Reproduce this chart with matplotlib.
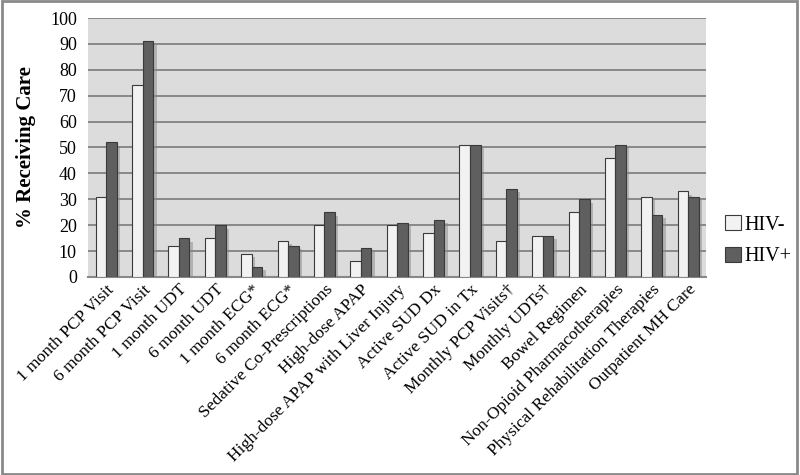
import numpy as np
import matplotlib.pyplot as plt
import matplotlib.patheffects as pe
from matplotlib.patches import Rectangle

categories = [
    "1 month PCP Visit", "6 month PCP Visit", "1 month UDT", "6 month UDT",
    "1 month ECG*", "6 month ECG*", "Sedative Co-Prescriptions", "High-dose APAP",
    "High-dose APAP with Liver Injury", "Active SUD Dx", "Active SUD in Tx",
    "Monthly PCP Visits\u2020", "Monthly UDTs\u2020", "Bowel Regimen",
    "Non-Opioid Pharmacotherapies", "Physical Rehabilitation Therapies",
    "Outpatient MH Care",
]
hiv_neg = [31, 74, 12, 15, 9, 14, 20, 6, 20, 17, 51, 14, 16, 25, 46, 31, 33]
hiv_pos = [52, 91, 15, 20, 4, 12, 25, 11, 21, 22, 51, 34, 16, 30, 51, 24, 31]

plt.rcParams["font.family"] = ["Liberation Serif", "DejaVu Serif"]

fig = plt.figure(figsize=(8, 4.75), dpi=100)
ax = fig.add_axes([0.11, 0.417, 0.773, 0.545])
ax.set_facecolor("#dcdcdc")

x = np.arange(len(categories))
w = 0.29
shadow = [pe.SimplePatchShadow(offset=(2.5, -2.5), shadow_rgbFace="#8a8a8a", alpha=0.5), pe.Normal()]
b1 = ax.bar(x - w / 2, hiv_neg, w, color="#f2f2f2", edgecolor="#3a3a3a", linewidth=0.8,
            label="HIV-", zorder=3)
b2 = ax.bar(x + w / 2, hiv_pos, w, color="#5f5f5f", edgecolor="#3a3a3a", linewidth=0.8,
            label="HIV+", zorder=3)
for b in list(b1) + list(b2):
    b.set_path_effects(shadow)

ax.set_xlim(-0.5, len(categories) - 0.5)
ax.set_ylim(0, 100)
ax.set_yticks(range(0, 101, 10))
ax.yaxis.grid(True, color="#7a7a7a", linewidth=1.2, zorder=0)
ax.set_axisbelow(True)
for s in ["top", "right", "left"]:
    ax.spines[s].set_visible(False)
ax.spines["bottom"].set_color("#888888")
ax.spines["bottom"].set_linewidth(1.5)
ax.tick_params(axis="both", length=0, labelsize=13)
ax.tick_params(axis="y", pad=8)
ax.set_xticks(x)
ax.set_xticklabels(categories, rotation=45, ha="right", rotation_mode="anchor", fontsize=12.5)
ax.set_ylabel("% Receiving Care", fontsize=15, fontweight="bold", labelpad=10)

leg = ax.legend(loc="center left", bbox_to_anchor=(1.0, 0.14), frameon=False, fontsize=14.5,
                handlelength=0.8, handleheight=0.8, handletextpad=0.2, labelspacing=0.6)
for h in leg.legend_handles:
    h.set_path_effects([])

fig.patches.append(Rectangle((0.002, 0.003), 0.994, 0.994, transform=fig.transFigure,
                             fill=False, edgecolor="#8a8a8a", linewidth=2))

fig.savefig("out.png", dpi=100)
